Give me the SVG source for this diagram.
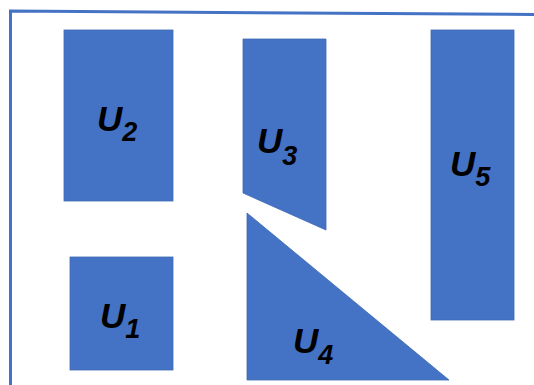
<svg xmlns="http://www.w3.org/2000/svg" width="534" height="385" viewBox="0 0 534 385">
<style>
.s{fill:#4472C4;stroke:#3F69B5;stroke-width:0.8}
.b{fill:none;stroke:#4472C4;stroke-width:3}
.t{font-family:"Liberation Sans",Arial,sans-serif;font-weight:bold;font-style:italic;font-size:35px;fill:#000}
.sub{font-size:27px}
</style>
<rect width="534" height="385" fill="#fff"/>
<g id="frame">
<polyline class="b" points="10.5,385 10.5,11 534,14.5"/>
</g>
<g id="U2">
<rect class="s" x="64" y="30" width="109" height="171"/>
<text class="t" x="97" y="131">U<tspan class="sub" dy="10">2</tspan></text>
</g>
<g id="U3">
<polygon class="s" points="243,39 326,39 326,230 243,193"/>
<text class="t" x="257" y="153">U<tspan class="sub" dy="12">3</tspan></text>
</g>
<g id="U4">
<polygon class="s" points="247,213 449,380 247,380"/>
<text class="t" x="293" y="353">U<tspan class="sub" dy="11">4</tspan></text>
</g>
<g id="U1">
<rect class="s" x="70" y="257" width="103" height="113"/>
<text class="t" x="100" y="328">U<tspan class="sub" dy="10">1</tspan></text>
</g>
<g id="U5">
<rect class="s" x="431" y="30" width="83" height="290"/>
<text class="t" x="450" y="176">U<tspan class="sub" dy="10">5</tspan></text>
</g>
<g id="connectors"/>
</svg>
